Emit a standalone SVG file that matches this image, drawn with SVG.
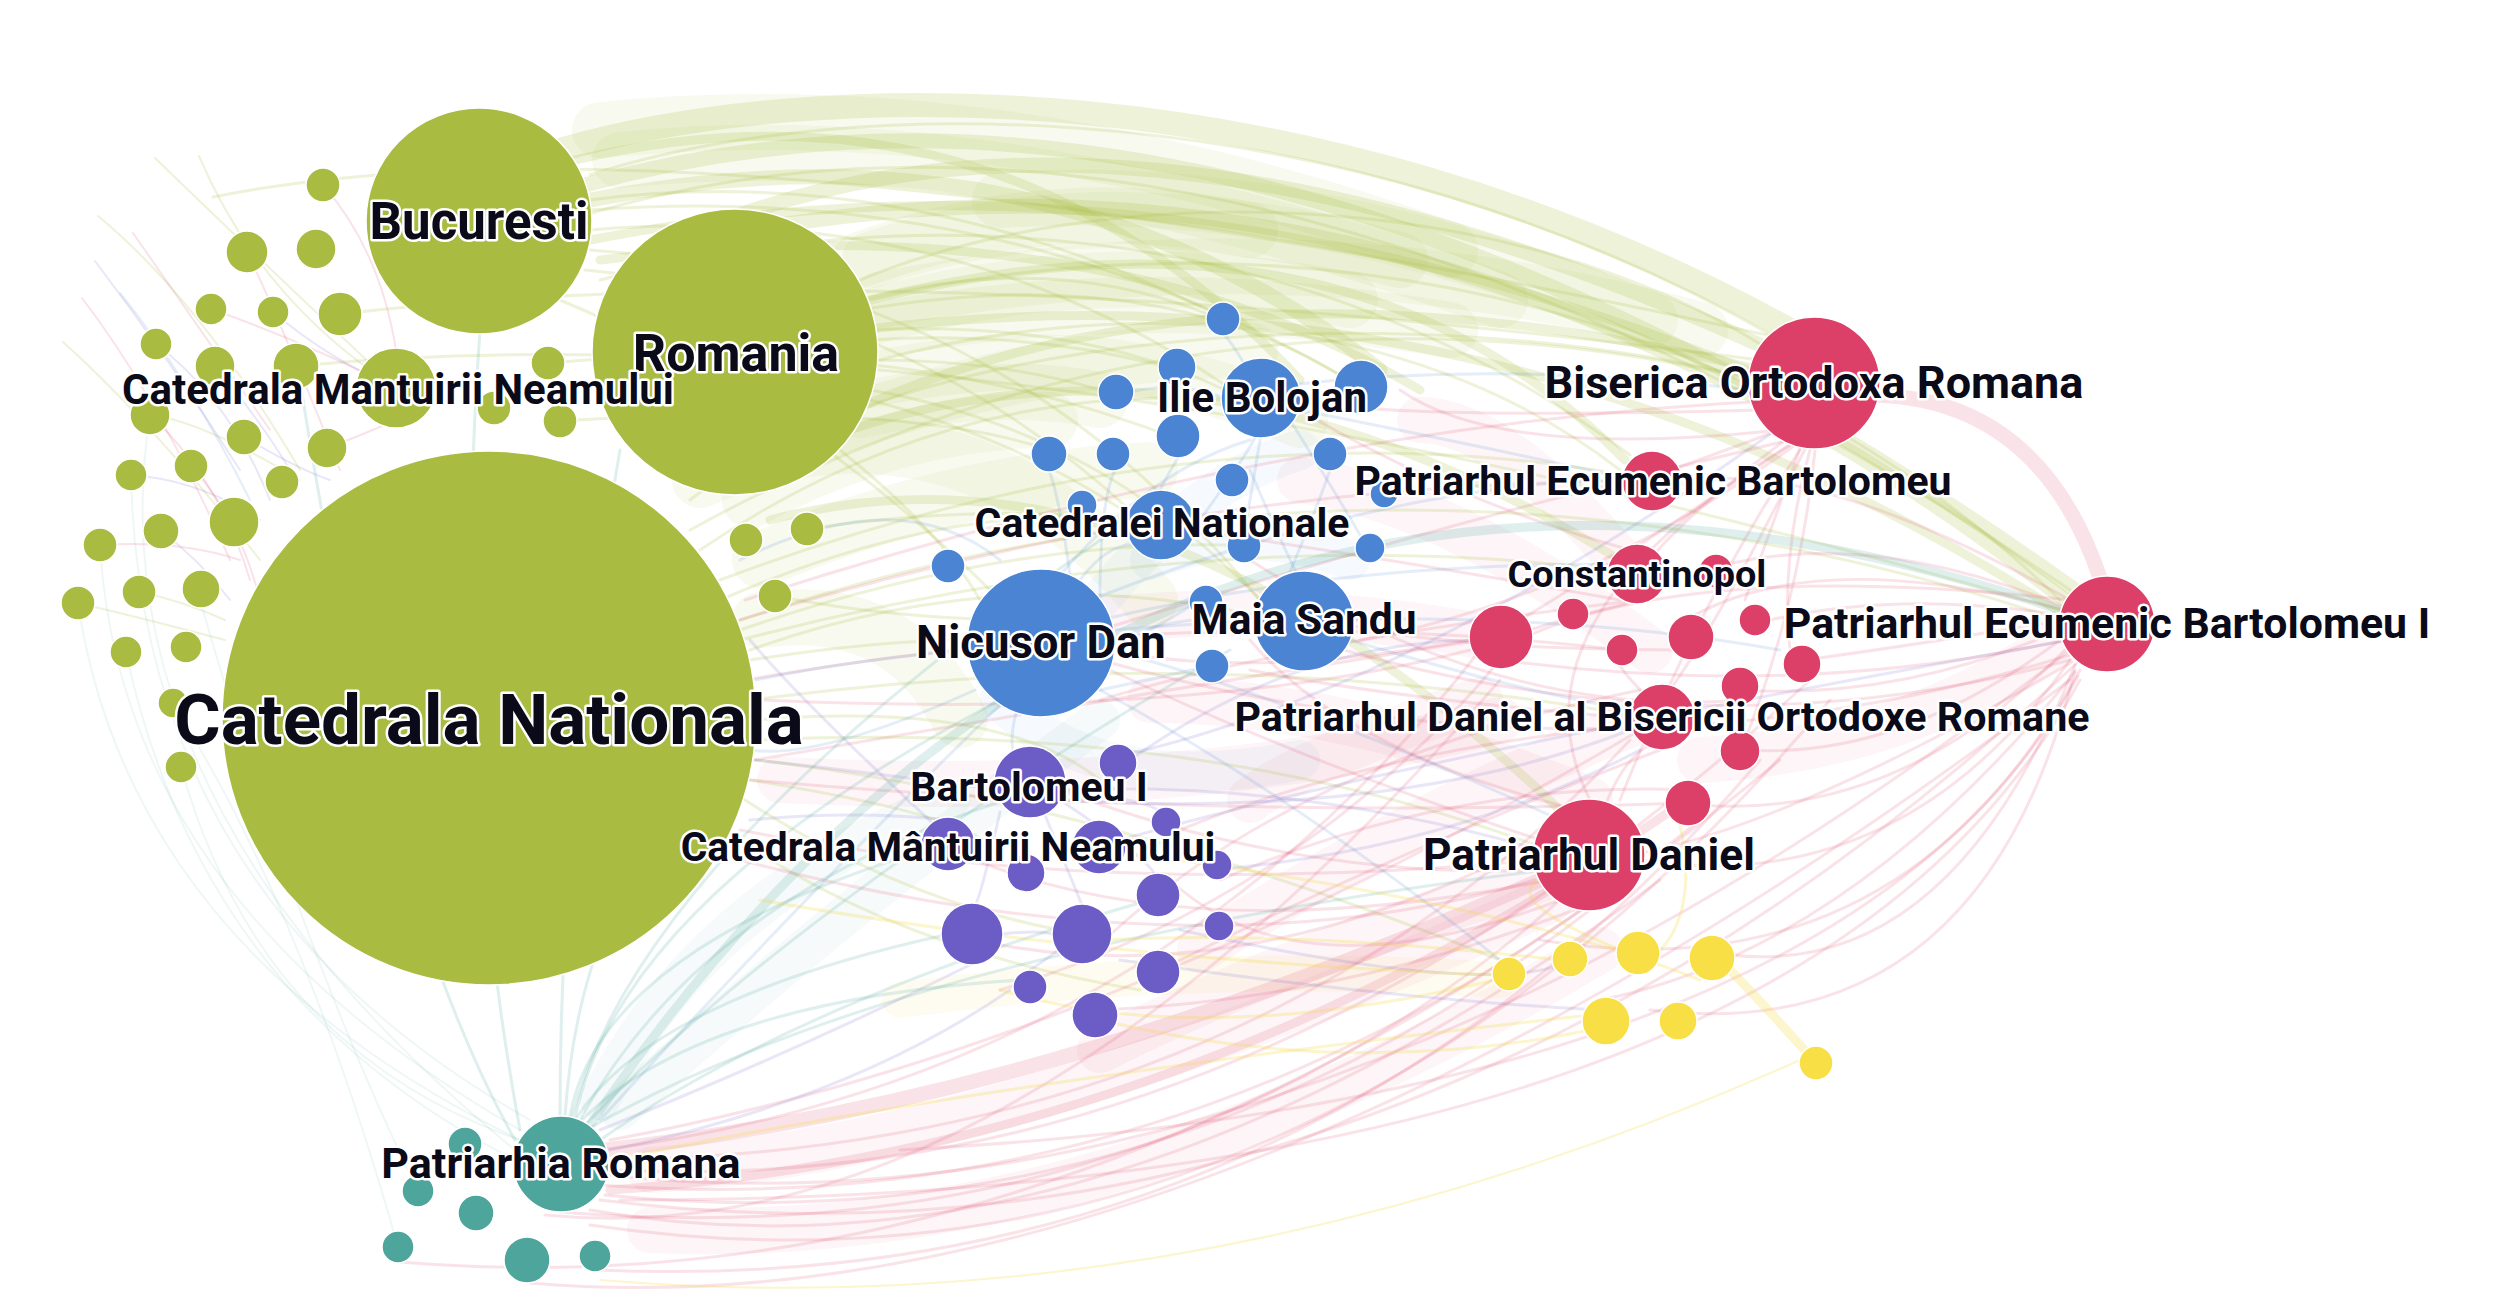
<svg xmlns="http://www.w3.org/2000/svg" width="2496" height="1308" viewBox="0 0 2496 1308">
<style>
#connectors path{fill:none;stroke-linecap:round}
.g{stroke:#a9bc43;stroke-opacity:.2}
.r{stroke:#dc4068;stroke-opacity:.15}
.b{stroke:#4a86d0;stroke-opacity:.15}
.p{stroke:#6e5cc6;stroke-opacity:.15}
.t{stroke:#4fa59d;stroke-opacity:.18}
.tl{stroke:#4fa59d;stroke-opacity:.09}
.y{stroke:#f3dc4a;stroke-opacity:.28}
.hg{stroke:#a9bc43;stroke-opacity:.08;stroke-width:56}
.hr{stroke:#dc4068;stroke-opacity:.05;stroke-width:46}
.hb{stroke:#4a86d0;stroke-opacity:.05;stroke-width:40}
.ht{stroke:#4fa59d;stroke-opacity:.05;stroke-width:40}
.hy{stroke:#f3dc4a;stroke-opacity:.08;stroke-width:36}
.w1{stroke-width:2}.w2{stroke-width:3}.w3{stroke-width:9}.w4{stroke-width:15}.w5{stroke-width:24}
circle{stroke:#fff;stroke-width:1.5}
.ng circle{fill:#a9bb41}.nb circle{fill:#4a84d2}.np circle{fill:#6c5cc6}.nr circle{fill:#dc4068}.nt circle{fill:#4ea59c}.ny circle{fill:#f9df46}
text{font-family:Roboto,"Liberation Sans",sans-serif;font-weight:700;fill:#0a0a18;stroke:#fff;stroke-width:5;stroke-linejoin:round;paint-order:stroke;text-anchor:middle}
</style>
<rect width="2496" height="1308" fill="#fff"/>
<g id="connectors">
<path class="hg" d="M860 320Q1100 250 1350 300"/>
<path class="hg" d="M870 380Q1100 330 1300 420"/>
<path class="hg" d="M620 160Q1000 120 1500 300"/>
<path class="hg" d="M700 480Q1000 350 1250 350"/>
<path class="hg" d="M880 300Q1300 220 1700 330"/>
<path class="hg" d="M760 560Q950 480 1150 470"/>
<path class="hg" d="M800 450Q1000 420 1150 600"/>
<path class="hg" d="M860 260Q1050 190 1250 230"/>
<path class="hg" d="M760 620Q900 600 960 720"/>
<path class="hg" d="M870 260Q1100 180 1400 260"/>
<path class="hg" d="M880 330Q1150 280 1450 330"/>
<path class="hg" d="M600 130Q1000 90 1450 250"/>
<path class="hg" d="M860 410Q1000 380 1100 400"/>
<path class="hg" d="M750 500Q900 420 1050 420"/>
<path class="hg" d="M1000 200Q1300 180 1650 320"/>
<path class="hr" d="M1500 640Q1300 600 1100 620"/>
<path class="hr" d="M1590 800Q1350 700 1150 700"/>
<path class="hr" d="M1640 720Q1400 820 1200 950"/>
<path class="hr" d="M1540 880Q1300 950 1100 1050"/>
<path class="hr" d="M1650 650Q1450 500 1300 480"/>
<path class="hr" d="M2060 640Q1900 750 1700 760"/>
<path class="hr" d="M1550 900Q1000 1150 650 1170"/>
<path class="hr" d="M1600 950Q1100 1250 650 1230"/>
<path class="hr" d="M1480 700Q1300 760 1250 800"/>
<path class="hr" d="M1620 560Q1500 420 1420 420"/>
<path class="hr" d="M1500 720Q1200 800 780 780"/>
<path class="hb" d="M1100 600Q1200 480 1300 450"/>
<path class="hb" d="M1000 700Q1100 800 1300 760"/>
<path class="hb" d="M1150 560Q1250 520 1350 560"/>
<path class="ht" d="M600 1100Q700 900 950 800"/>
<path class="ht" d="M620 1110Q850 900 1100 720"/>
<path class="hy" d="M1500 980Q1200 960 900 1000"/>
<path class="g w5" d="M560 150C800 80 1300 60 1790 330"/>
<path class="g w4" d="M585 185Q1250 0 2075 590"/>
<path class="g w4" d="M740 215Q1150 70 1760 345"/>
<path class="g w4" d="M780 225Q1450 120 2065 600"/>
<path class="g w3" d="M590 240Q1150 130 1752 372"/>
<path class="g w3" d="M870 300Q1350 180 1625 460"/>
<path class="g w3" d="M600 260Q1100 200 1420 390"/>
<path class="g w3" d="M860 330Q1500 250 2065 615"/>
<path class="g w3" d="M740 470Q1150 220 1760 370"/>
<path class="g w3" d="M575 160Q1000 60 1300 380"/>
<path class="g w4" d="M590 200Q1050 110 1380 370"/>
<path class="g w3" d="M820 440Q1200 300 1620 560"/>
<path class="g w3" d="M770 520Q1150 420 1560 810"/>
<path class="g w2" d="M590 175C850 90 1350 90 1780 340"/>
<path class="g w2" d="M585 215C900 120 1400 130 2070 590"/>
<path class="g w2" d="M860 280C1100 180 1500 180 1770 350"/>
<path class="g w2" d="M870 300C1200 220 1700 250 2060 600"/>
<path class="g w2" d="M600 280C900 200 1300 210 1630 455"/>
<path class="g w2" d="M880 360C1100 300 1400 300 1620 470"/>
<path class="g w2" d="M690 500C900 330 1400 290 1760 380"/>
<path class="g w2" d="M860 300Q1050 250 1210 315"/>
<path class="g w2" d="M870 330Q1080 320 1225 390"/>
<path class="g w2" d="M860 310Q1150 260 1340 375"/>
<path class="g w2" d="M870 340Q1020 330 1160 365"/>
<path class="g w2" d="M875 360Q1000 360 1100 390"/>
<path class="g w2" d="M870 400Q1020 440 1130 515"/>
<path class="g w2" d="M840 450Q940 530 980 600"/>
<path class="g w2" d="M870 390Q1100 430 1260 600"/>
<path class="g w2" d="M590 230Q950 200 1225 385"/>
<path class="g w2" d="M590 200Q900 160 1208 310"/>
<path class="g w2" d="M585 270Q900 300 1130 510"/>
<path class="g w2" d="M560 300Q800 400 990 590"/>
<path class="g w2" d="M590 250Q1000 280 1260 600"/>
<path class="g w2" d="M590 210Q1000 180 1340 375"/>
<path class="g w2" d="M700 550Q950 380 1230 400"/>
<path class="g w2" d="M720 600Q950 500 1130 520"/>
<path class="g w2" d="M750 660Q880 640 970 640"/>
<path class="g w2" d="M750 650Q1000 560 1255 615"/>
<path class="g w2" d="M740 630Q1000 540 1230 545"/>
<path class="g w2" d="M690 530Q1200 250 1755 380"/>
<path class="g w2" d="M720 580Q1200 400 1625 475"/>
<path class="g w2" d="M755 740Q1200 720 1535 845"/>
<path class="g w2" d="M740 620Q1400 400 2060 620"/>
<path class="g w2" d="M740 640Q1200 520 1610 570"/>
<path class="g w2" d="M750 700Q1200 640 1630 715"/>
<path class="g w2" d="M755 760Q1100 800 1500 960"/>
<path class="g w2" d="M750 780Q1000 820 1000 860"/>
<path class="g w2" d="M745 800Q900 900 1060 930"/>
<path class="g w2" d="M755 720Q1000 700 1100 780"/>
<path class="g w2" d="M740 840Q900 950 1140 990"/>
<path class="g w2" d="M340 314Q900 250 1760 360"/>
<path class="g w2" d="M296 366Q1000 300 2060 610"/>
<path class="g w2" d="M213 197Q700 100 1790 340"/>
<path class="g w2" d="M548 363Q900 330 1180 440"/>
<path class="g w2" d="M560 421Q900 400 1050 450"/>
<path class="g w2" d="M807 529Q1000 500 1160 525"/>
<path class="g w2" d="M775 596Q900 620 1030 620"/>
<path class="g w1" d="M155 158Q250 250 396 388"/>
<path class="g w1" d="M199 156Q260 300 396 388"/>
<path class="g w1" d="M98 216Q200 300 300 470"/>
<path class="g w1" d="M150 415Q200 420 300 480"/>
<path class="g w1" d="M63 342Q150 420 260 560"/>
<path class="r w1" d="M100 545Q180 540 240 560"/>
<path class="p w1" d="M131 475Q200 480 260 520"/>
<path class="r w1" d="M211 309Q300 340 396 388"/>
<path class="p w1" d="M273 312Q330 360 396 388"/>
<path class="r w1" d="M247 252Q280 320 340 470"/>
<path class="p w1" d="M244 437Q300 470 330 480"/>
<path class="r w1" d="M327 448Q350 440 396 420"/>
<path class="g w1" d="M78 603Q150 620 225 640"/>
<path class="g w1" d="M139 592Q180 600 225 620"/>
<path class="r w1" d="M323 185Q380 250 396 350"/>
<path class="p w1" d="M156 344Q230 400 270 500"/>
<path class="r w1" d="M150 415Q220 480 250 580"/>
<path class="p w1" d="M215 366Q260 420 290 470"/>
<path class="r w1" d="M191 466Q240 520 260 600"/>
<path class="p w1" d="M161 531Q200 560 230 600"/>
<path class="r w1" d="M133 233Q200 330 270 430"/>
<path class="p w1" d="M95 261Q170 360 240 470"/>
<path class="r w1" d="M82 298Q160 400 230 560"/>
<path class="b w1" d="M120 293Q190 380 250 500"/>
<path class="r w4" d="M1875 395Q2040 400 2100 578"/>
<path class="r w4" d="M605 1150Q1050 1100 1540 880"/>
<path class="r w3" d="M610 1190Q1200 1150 1700 790"/>
<path class="r w2" d="M605 1175Q1300 1250 2070 650"/>
<path class="r w2" d="M600 1200Q1400 1300 2080 660"/>
<path class="r w2" d="M610 1160Q1250 1150 1630 740"/>
<path class="r w2" d="M600 1185Q1200 1230 1700 820"/>
<path class="r w2" d="M590 1210Q1100 1300 1660 880"/>
<path class="r w2" d="M600 1150Q1150 1080 1480 650"/>
<path class="r w2" d="M590 1225Q1300 1330 1830 700"/>
<path class="r w2" d="M400 1262Q1100 1320 1780 760"/>
<path class="r w2" d="M530 1283Q1200 1340 2070 680"/>
<path class="r w2" d="M598 1270Q1300 1300 1760 760"/>
<path class="r w2" d="M560 1212Q1150 1260 1560 900"/>
<path class="r w2" d="M545 1215Q1000 1260 1500 680"/>
<path class="r w2" d="M610 1140Q1100 1050 1640 730"/>
<path class="r w2" d="M615 1170Q1250 1200 1810 680"/>
<path class="r w2" d="M605 1195Q1150 1250 1590 910"/>
<path class="r w2" d="M1500 637Q1100 700 755 760"/>
<path class="r w2" d="M1540 860Q1100 900 740 830"/>
<path class="r w2" d="M1622 650Q1200 600 745 680"/>
<path class="r w2" d="M1688 803Q1200 820 750 780"/>
<path class="r w2" d="M1653 481Q1200 480 740 620"/>
<path class="r w2" d="M1790 400Q1300 420 745 600"/>
<path class="r w2" d="M1470 640Q1250 680 1110 650"/>
<path class="r w2" d="M1540 840Q1300 760 1110 670"/>
<path class="r w2" d="M1545 870Q1300 880 1060 790"/>
<path class="r w2" d="M1550 880Q1200 950 975 860"/>
<path class="r w2" d="M1640 690Q1300 760 1110 935"/>
<path class="r w2" d="M1600 900Q1350 1000 1100 1010"/>
<path class="r w2" d="M1660 750Q1400 850 1160 970"/>
<path class="r w2" d="M1700 650Q1450 650 1350 625"/>
<path class="r w2" d="M1630 550Q1450 500 1300 410"/>
<path class="r w2" d="M1620 600Q1400 560 1190 530"/>
<path class="r w2" d="M1740 700Q1500 720 1250 560"/>
<path class="r w2" d="M1655 720Q1400 700 1250 670"/>
<path class="r w2" d="M1690 790Q1450 780 1220 880"/>
<path class="r w2" d="M1500 660Q1300 900 1000 990"/>
<path class="r w2" d="M1560 830Q1250 1000 975 940"/>
<path class="r w2" d="M1470 650Q1200 720 760 700"/>
<path class="r w2" d="M1535 880Q1200 980 740 860"/>
<path class="r w2" d="M1640 600Q1300 640 1100 700"/>
<path class="r w2" d="M1700 720Q1400 740 1180 830"/>
<path class="r w2" d="M1560 900Q1300 1000 1170 880"/>
<path class="r w2" d="M1620 820Q1350 760 1250 640"/>
<path class="r w2" d="M2060 630Q1900 700 1740 690"/>
<path class="r w2" d="M2060 640Q1900 760 1745 750"/>
<path class="r w2" d="M2065 650Q1900 820 1700 805"/>
<path class="r w2" d="M2070 660Q1900 900 1640 860"/>
<path class="r w2" d="M2075 665Q1950 980 1730 955"/>
<path class="r w2" d="M2075 670Q1980 1050 1650 1010"/>
<path class="r w2" d="M2060 620Q1950 640 1805 660"/>
<path class="r w2" d="M2060 615Q1900 590 1770 620"/>
<path class="r w2" d="M2065 610Q1800 540 1670 630"/>
<path class="r w2" d="M2060 605Q1850 520 1690 575"/>
<path class="r w2" d="M2070 600Q1800 450 1680 485"/>
<path class="r w2" d="M2080 670Q1900 1000 1540 940"/>
<path class="r w2" d="M2080 680Q1800 1200 620 1200"/>
<path class="r w2" d="M2070 600Q1700 560 1530 635"/>
<path class="r w2" d="M2065 640Q1800 700 1500 660"/>
<path class="r w2" d="M2070 660Q1700 760 1310 640"/>
<path class="r w2" d="M2070 655Q1600 800 1100 660"/>
<path class="r w2" d="M2072 662Q1750 850 1590 860"/>
<path class="r w2" d="M2075 672Q1850 950 1600 1000"/>
<path class="r w2" d="M2078 676Q1850 1100 900 1150"/>
<path class="r w2" d="M1780 430Q1700 460 1670 470"/>
<path class="r w2" d="M1785 440Q1680 520 1650 560"/>
<path class="r w2" d="M1790 445Q1620 560 1520 620"/>
<path class="r w2" d="M1800 450Q1700 600 1620 800"/>
<path class="r w2" d="M1800 448Q1760 560 1745 600"/>
<path class="r w2" d="M1810 450Q1780 560 1790 650"/>
<path class="r w2" d="M1795 445Q1580 600 1360 640"/>
<path class="r w2" d="M1790 440Q1450 520 1100 630"/>
<path class="r w2" d="M1760 410Q1400 420 1290 400"/>
<path class="r w2" d="M1805 449Q1720 620 1670 690"/>
<path class="r w2" d="M1815 450Q1800 600 1745 740"/>
<path class="r w2" d="M1790 445Q1500 620 1590 800"/>
<path class="r w2" d="M1780 430Q1500 460 1400 390"/>
<path class="r w2" d="M1640 600Q1560 620 1530 630"/>
<path class="r w2" d="M1650 700Q1600 650 1625 655"/>
<path class="r w2" d="M1600 820Q1620 760 1650 745"/>
<path class="b w2" d="M1060 575Q1150 470 1250 440"/>
<path class="b w2" d="M1110 640Q1200 610 1255 620"/>
<path class="b w2" d="M1080 580Q1110 540 1140 545"/>
<path class="b w2" d="M1245 365Q1230 340 1225 336"/>
<path class="b w2" d="M1100 600Q1100 500 1115 470"/>
<path class="b w2" d="M1070 575Q1060 500 1049 470"/>
<path class="b w2" d="M1100 690Q1150 680 1200 668"/>
<path class="b w2" d="M1111 650Q1170 620 1192 605"/>
<path class="b w2" d="M1290 572Q1320 500 1330 470"/>
<path class="b w2" d="M1200 520Q1250 450 1255 437"/>
<path class="b w2" d="M1230 400Q1180 380 1130 392"/>
<path class="b w2" d="M1260 440Q1250 500 1245 530"/>
<path class="b w2" d="M1290 420Q1340 500 1360 535"/>
<path class="b w2" d="M1160 490Q1170 470 1178 458"/>
<path class="b w2" d="M1300 580Q1280 540 1250 470"/>
<path class="b w2" d="M1110 650Q1300 700 1560 820"/>
<path class="b w2" d="M1100 620Q1350 560 1630 565"/>
<path class="b w2" d="M1090 600Q1400 480 1630 480"/>
<path class="b w2" d="M970 650Q850 660 756 680"/>
<path class="b w2" d="M1000 705Q800 900 600 1120"/>
<path class="b w2" d="M1100 690Q1300 800 1500 960"/>
<path class="b w2" d="M1110 630Q1500 600 1780 650"/>
<path class="b w2" d="M1350 640Q1550 700 1640 710"/>
<path class="b w2" d="M1290 385Q1500 360 1750 390"/>
<path class="b w2" d="M1300 410Q1500 450 1625 478"/>
<path class="b w2" d="M1020 700Q1000 760 1030 770"/>
<path class="b w2" d="M1000 560Q900 480 740 560"/>
<path class="b w2" d="M975 690Q820 760 750 750"/>
<path class="p w2" d="M1045 815Q1080 900 1082 905"/>
<path class="p w2" d="M1000 812Q980 900 975 905"/>
<path class="p w2" d="M1060 800Q1150 860 1155 875"/>
<path class="p w2" d="M1060 790Q1150 800 1160 812"/>
<path class="p w2" d="M1030 970Q1060 950 1070 940"/>
<path class="p w2" d="M1002 934Q1040 930 1052 934"/>
<path class="p w2" d="M1055 790Q1300 780 1540 850"/>
<path class="p w2" d="M1060 800Q1400 820 1630 730"/>
<path class="p w2" d="M1120 960Q1400 1000 1600 1010"/>
<path class="p w2" d="M1000 790Q850 770 756 760"/>
<path class="p w2" d="M950 820Q850 810 750 820"/>
<path class="p w2" d="M980 960Q800 1050 600 1130"/>
<path class="p w2" d="M1010 990Q850 1100 610 1150"/>
<path class="p w2" d="M1180 930Q1500 1000 1570 960"/>
<path class="p w2" d="M1210 870Q1450 850 1640 750"/>
<path class="p w2" d="M1100 760Q1400 700 1790 420"/>
<path class="p w2" d="M1120 840Q1400 760 2070 640"/>
<path class="p w2" d="M1130 760Q1300 640 1480 640"/>
<path class="p w2" d="M940 830Q800 700 750 640"/>
<path class="t w2" d="M575 1118Q620 900 1000 700"/>
<path class="t w2" d="M570 1116Q600 950 925 850"/>
<path class="t w2" d="M565 1116Q580 900 700 790"/>
<path class="t w2" d="M580 1120Q700 900 1005 800"/>
<path class="t w2" d="M585 1125Q800 900 1230 650"/>
<path class="t w2" d="M560 1116Q560 800 620 450"/>
<path class="t w2" d="M590 1128Q900 950 1545 870"/>
<path class="t w2" d="M580 1122Q700 1000 1020 980"/>
<path class="t w2" d="M575 1120Q650 1000 945 935"/>
<path class="t w3" d="M590 1125Q1150 300 2060 610"/>
<path class="t w2" d="M520 1130Q450 750 480 330"/>
<path class="t w2" d="M515 1140Q380 900 300 380"/>
<path class="t w2" d="M600 1140Q800 1000 1150 900"/>
<path class="t w2" d="M572 1117Q640 850 1130 520"/>
<path class="tl w1" d="M100 545Q120 900 520 1130"/>
<path class="tl w1" d="M78 603Q130 950 520 1140"/>
<path class="tl w1" d="M150 415Q90 800 515 1150"/>
<path class="tl w1" d="M131 475Q140 900 530 1120"/>
<path class="tl w1" d="M126 652Q200 1000 515 1160"/>
<path class="tl w1" d="M181 767Q260 1050 520 1140"/>
<path class="tl w1" d="M398 1247Q300 900 170 700"/>
<path class="tl w1" d="M418 1191Q300 950 200 600"/>
<path class="y w2" d="M1495 975Q1100 960 760 900"/>
<path class="y w2" d="M1590 1015Q1000 1080 610 1160"/>
<path class="y w2" d="M1560 960Q1300 930 1100 940"/>
<path class="y w3" d="M1816 1063Q1760 1000 1725 965"/>
<path class="y w1" d="M1800 1060Q1200 1330 600 1280"/>
<path class="y w2" d="M1650 960Q1700 920 1680 825"/>
<path class="y w2" d="M1700 980Q1500 900 1100 850"/>
<path class="y w2" d="M1495 980Q1200 1050 1000 990"/>
<path class="y w2" d="M1590 1030Q1350 1080 1100 1020"/>
<path class="y w2" d="M1620 950Q1500 900 1540 880"/>
</g>
<g id="n-g1" class="ng"><circle cx="323" cy="185" r="17"/></g>
<g id="n-g2" class="ng"><circle cx="247" cy="252" r="21"/></g>
<g id="n-g3" class="ng"><circle cx="316" cy="249" r="20"/></g>
<g id="n-g4" class="ng"><circle cx="211" cy="309" r="16"/></g>
<g id="n-g5" class="ng"><circle cx="273" cy="312" r="16"/></g>
<g id="n-g6" class="ng"><circle cx="340" cy="314" r="22"/></g>
<g id="n-g7" class="ng"><circle cx="156" cy="344" r="16"/></g>
<g id="n-g8" class="ng"><circle cx="215" cy="366" r="20"/></g>
<g id="n-g9" class="ng"><circle cx="296" cy="366" r="23"/></g>
<g id="n-g10" class="ng"><circle cx="548" cy="363" r="17"/></g>
<g id="n-g11" class="ng"><circle cx="494" cy="408" r="17"/></g>
<g id="n-g12" class="ng"><circle cx="560" cy="421" r="17"/></g>
<g id="n-g13" class="ng"><circle cx="150" cy="415" r="20"/></g>
<g id="n-g14" class="ng"><circle cx="244" cy="437" r="18"/></g>
<g id="n-g15" class="ng"><circle cx="327" cy="448" r="20"/></g>
<g id="n-g16" class="ng"><circle cx="131" cy="475" r="16"/></g>
<g id="n-g17" class="ng"><circle cx="191" cy="466" r="17"/></g>
<g id="n-g18" class="ng"><circle cx="282" cy="482" r="17"/></g>
<g id="n-g19" class="ng"><circle cx="234" cy="522" r="25"/></g>
<g id="n-g20" class="ng"><circle cx="161" cy="531" r="18"/></g>
<g id="n-g21" class="ng"><circle cx="100" cy="545" r="17"/></g>
<g id="n-g22" class="ng"><circle cx="139" cy="592" r="17"/></g>
<g id="n-g23" class="ng"><circle cx="201" cy="589" r="19"/></g>
<g id="n-g24" class="ng"><circle cx="78" cy="603" r="17"/></g>
<g id="n-g25" class="ng"><circle cx="126" cy="652" r="16"/></g>
<g id="n-g26" class="ng"><circle cx="186" cy="647" r="16"/></g>
<g id="n-g27" class="ng"><circle cx="173" cy="703" r="15"/></g>
<g id="n-g28" class="ng"><circle cx="181" cy="767" r="16"/></g>
<g id="n-g29" class="ng"><circle cx="746" cy="540" r="17"/></g>
<g id="n-g30" class="ng"><circle cx="807" cy="529" r="17"/></g>
<g id="n-g31" class="ng"><circle cx="775" cy="596" r="17"/></g>
<g id="n-b1" class="nb"><circle cx="1223" cy="319" r="17"/></g>
<g id="n-b2" class="nb"><circle cx="1177" cy="367" r="19"/></g>
<g id="n-b3" class="nb"><circle cx="1361" cy="387" r="27"/></g>
<g id="n-b4" class="nb"><circle cx="1116" cy="392" r="18"/></g>
<g id="n-b5" class="nb"><circle cx="1178" cy="436" r="22"/></g>
<g id="n-b6" class="nb"><circle cx="1049" cy="454" r="18"/></g>
<g id="n-b7" class="nb"><circle cx="1113" cy="454" r="17"/></g>
<g id="n-b8" class="nb"><circle cx="1330" cy="454" r="17"/></g>
<g id="n-b9" class="nb"><circle cx="1232" cy="480" r="17"/></g>
<g id="n-b10" class="nb"><circle cx="1384" cy="494" r="14"/></g>
<g id="n-b11" class="nb"><circle cx="1082" cy="505" r="15"/></g>
<g id="n-b12" class="nb"><circle cx="1244" cy="546" r="17"/></g>
<g id="n-b13" class="nb"><circle cx="1370" cy="548" r="15"/></g>
<g id="n-b14" class="nb"><circle cx="948" cy="566" r="17"/></g>
<g id="n-b15" class="nb"><circle cx="1206" cy="602" r="17"/></g>
<g id="n-b16" class="nb"><circle cx="1212" cy="666" r="17"/></g>
<g id="n-p1" class="np"><circle cx="1118" cy="763" r="19"/></g>
<g id="n-p2" class="np"><circle cx="1099" cy="847" r="27"/></g>
<g id="n-p3" class="np"><circle cx="1166" cy="822" r="15"/></g>
<g id="n-p4" class="np"><circle cx="1026" cy="873" r="19"/></g>
<g id="n-p5" class="np"><circle cx="1217" cy="865" r="15"/></g>
<g id="n-p6" class="np"><circle cx="1158" cy="895" r="22"/></g>
<g id="n-p7" class="np"><circle cx="972" cy="934" r="31"/></g>
<g id="n-p8" class="np"><circle cx="1082" cy="934" r="30"/></g>
<g id="n-p9" class="np"><circle cx="1219" cy="926" r="15"/></g>
<g id="n-p10" class="np"><circle cx="1158" cy="972" r="22"/></g>
<g id="n-p11" class="np"><circle cx="1030" cy="987" r="17"/></g>
<g id="n-p12" class="np"><circle cx="1095" cy="1015" r="23"/></g>
<g id="n-r1" class="nr"><circle cx="1716" cy="571" r="17"/></g>
<g id="n-r2" class="nr"><circle cx="1501" cy="637" r="32"/></g>
<g id="n-r3" class="nr"><circle cx="1573" cy="614" r="16"/></g>
<g id="n-r4" class="nr"><circle cx="1622" cy="650" r="16"/></g>
<g id="n-r5" class="nr"><circle cx="1691" cy="637" r="23"/></g>
<g id="n-r6" class="nr"><circle cx="1755" cy="620" r="16"/></g>
<g id="n-r7" class="nr"><circle cx="1802" cy="664" r="19"/></g>
<g id="n-r8" class="nr"><circle cx="1740" cy="686" r="19"/></g>
<g id="n-r9" class="nr"><circle cx="1740" cy="751" r="20"/></g>
<g id="n-r10" class="nr"><circle cx="1688" cy="803" r="23"/></g>
<g id="n-t1" class="nt"><circle cx="465" cy="1144" r="17"/></g>
<g id="n-t2" class="nt"><circle cx="418" cy="1191" r="16"/></g>
<g id="n-t3" class="nt"><circle cx="476" cy="1213" r="18"/></g>
<g id="n-t4" class="nt"><circle cx="398" cy="1247" r="16"/></g>
<g id="n-t5" class="nt"><circle cx="527" cy="1260" r="23"/></g>
<g id="n-t6" class="nt"><circle cx="595" cy="1256" r="16"/></g>
<g id="n-y1" class="ny"><circle cx="1509" cy="974" r="17"/></g>
<g id="n-y2" class="ny"><circle cx="1570" cy="959" r="18"/></g>
<g id="n-y3" class="ny"><circle cx="1638" cy="953" r="22"/></g>
<g id="n-y4" class="ny"><circle cx="1712" cy="958" r="23"/></g>
<g id="n-y5" class="ny"><circle cx="1606" cy="1021" r="24"/></g>
<g id="n-y6" class="ny"><circle cx="1678" cy="1021" r="19"/></g>
<g id="n-y7" class="ny"><circle cx="1816" cy="1063" r="17"/></g>
<g id="n-bucuresti" class="ng"><circle cx="479" cy="221" r="113"/><text x="479" y="239" font-size="51">Bucuresti</text></g>
<g id="n-romania" class="ng"><circle cx="735" cy="352" r="143"/><text x="736" y="371" font-size="52">Romania</text></g>
<g id="n-catedrala-nationala" class="ng"><circle cx="489" cy="718" r="267"/><text x="489" y="744" font-size="71">Catedrala Nationala</text></g>
<g id="n-catedrala-mantuirii-neamului" class="ng"><circle cx="396" cy="388" r="40"/><text x="398" y="404" font-size="42">Catedrala Mantuirii Neamului</text></g>
<g id="n-ilie-bolojan" class="nb"><circle cx="1261" cy="398" r="40"/><text x="1262" y="412" font-size="42">Ilie Bolojan</text></g>
<g id="n-catedralei-nationale" class="nb"><circle cx="1161" cy="525" r="35"/><text x="1162" y="537" font-size="41">Catedralei Nationale</text></g>
<g id="n-nicusor-dan" class="nb"><circle cx="1041" cy="643" r="74"/><text x="1041" y="658" font-size="45.5">Nicusor Dan</text></g>
<g id="n-maia-sandu" class="nb"><circle cx="1304" cy="621" r="50"/><text x="1304" y="634" font-size="42.5">Maia Sandu</text></g>
<g id="n-bartolomeu-i" class="np"><circle cx="1030" cy="782" r="36"/><text x="1029" y="801" font-size="41">Bartolomeu I</text></g>
<g id="n-catedrala-mantuirii-neamului-2" class="np"><circle cx="948" cy="844" r="27"/><text x="948" y="861" font-size="40.7">Catedrala Mântuirii Neamului</text></g>
<g id="n-biserica-ortodoxa-romana" class="nr"><circle cx="1814" cy="383" r="66"/><text x="1814" y="398" font-size="45">Biserica Ortodoxa Romana</text></g>
<g id="n-patriarhul-ecumenic-bartolomeu" class="nr"><circle cx="1652" cy="481" r="30"/><text x="1653" y="495" font-size="41">Patriarhul Ecumenic Bartolomeu</text></g>
<g id="n-constantinopol" class="nr"><circle cx="1637" cy="574" r="30"/><text x="1637" y="587" font-size="37.8">Constantinopol</text></g>
<g id="n-patriarhul-ecumenic-bartolomeu-i" class="nr"><circle cx="2107" cy="624" r="48"/><text x="2107" y="638" font-size="42.8">Patriarhul Ecumenic Bartolomeu I</text></g>
<g id="n-patriarhul-daniel-bor" class="nr"><circle cx="1662" cy="717" r="33"/><text x="1662" y="731" font-size="41.2">Patriarhul Daniel al Bisericii Ortodoxe Romane</text></g>
<g id="n-patriarhul-daniel" class="nr"><circle cx="1589" cy="855" r="56"/><text x="1589" y="870" font-size="44.3">Patriarhul Daniel</text></g>
<g id="n-patriarhia-romana" class="nt"><circle cx="561" cy="1164" r="48"/><text x="561" y="1178" font-size="43">Patriarhia Romana</text></g>
</svg>
